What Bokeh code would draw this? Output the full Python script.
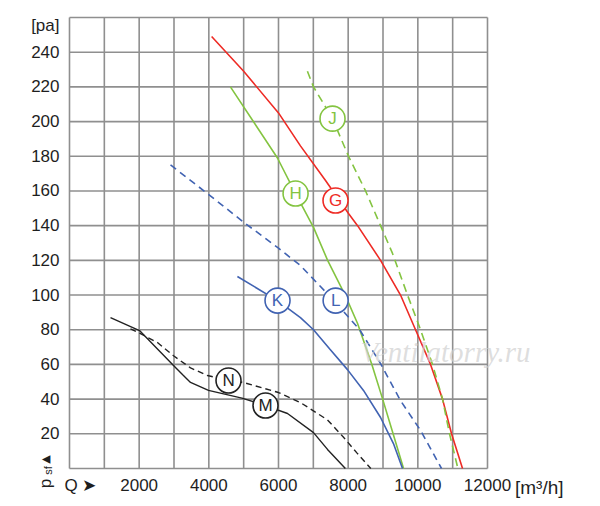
import math
from bokeh.plotting import figure
from bokeh.models import Range1d, FixedTicker, Label, ColumnDataSource
from bokeh.core.properties import value
from bokeh.embed import file_html
from bokeh.resources import INLINE

# ---- data ----
x_ticks = [316, 2000, 4000, 6000, 8000, 10000, 12000]
x_tick_labels = ["Q ➤", "2000", "4000", "6000", "8000", "10000", "12000"]
y_ticks = [20, 40, 60, 80, 100, 120, 140, 160, 180, 200, 220, 240, 255.3]
y_tick_labels = [str(v) for v in y_ticks[:-1]] + ["[pa]"]
x_grid = list(range(0, 13000, 1000))
y_grid = list(range(0, 280, 20))

g_x = [4080, 5000, 6000, 6630, 7350, 8010, 8270, 8930, 9503, 9934, 10365, 10709, 10968, 11283]
g_y = [249, 229, 205, 186, 166, 147, 140, 120, 100, 80, 60, 40, 20, 0]

j_x = [6830, 7005, 7550, 8010, 8500, 8930, 9273, 9704, 10078, 10422, 10709, 10910, 11150]
j_y = [229, 220, 201.7, 180, 160, 140, 124, 100, 80, 60, 40, 20, 0]

h_x = [4620, 5970, 6490, 7005, 7410, 7920, 8270, 8680, 8990, 9290, 9590]
h_y = [220, 179, 158.5, 139, 120, 99.7, 83.6, 60, 40, 20, 0]

l_x = [2900, 3960, 5000, 6000, 6630, 7580, 8330, 8930, 9500, 10080, 10680]
l_y = [175, 158.5, 142, 127, 117, 97, 80, 60.5, 39.2, 21.9, 0]

k_x = [4820, 5970, 6630, 7005, 7465, 7980, 8440, 8930, 9300, 9560]
k_y = [110.7, 96.8, 87, 80, 69, 57, 45, 29.4, 14.4, 0]

m_x = [1177, 2010, 2986, 3250, 3474, 3990, 4950, 5627, 6259, 7005, 7407, 7920]
m_y = [87, 79.5, 59.4, 54, 49.6, 45, 40.6, 36.3, 31.7, 20.7, 11, 0]

n_x = [1750, 2010, 2526, 2986, 3474, 3962, 4565, 4996, 6000, 6632, 7407, 7867, 8250, 8650]
n_y = [80.5, 78, 72.6, 65, 58, 53.6, 50.7, 49.6, 43.8, 38, 28, 18, 9, 0]

tag_letters = ["G", "J", "H", "K", "L", "N", "M"]
tag_x = [7637, 7551, 6490, 5972, 7640, 4565, 5627]
tag_y = [154.5, 201.7, 158.5, 96.8, 96.8, 50.7, 36.3]

RED = "#ee2b25"
GREEN = "#84c441"
BLUE = "#4163b2"
BLACK = "#222222"
tag_colors = [RED, GREEN, GREEN, BLUE, BLUE, BLACK, BLACK]

FONT = "Liberation Sans"
GRID = "#8f8f8f"
TXT = "#1e1e1e"

# The frame fills the whole canvas; axes are fixed at x=0 / y=0 so that all
# texts (including those left of / below the grid) stay inside the frame.
W, H = 600, 506
FL, FR, FT, FB = 69, 487, 17, 468          # pixel box of the grid
xs = (x_grid[-1] - x_grid[0]) / (FR - FL)
ys = (y_grid[-1] - y_grid[0]) / (FB - FT)
x_range = Range1d(x_grid[0] - FL * xs, x_grid[-1] + (W - FR) * xs)
y_range = Range1d(y_grid[0] - (H - FB) * ys, y_grid[-1] + FT * ys)

p = figure(width=W, height=H, output_backend="svg", toolbar_location=None,
           x_range=x_range, y_range=y_range,
           min_border_left=0, min_border_right=0, min_border_top=0, min_border_bottom=0)
p.background_fill_color = "white"
p.border_fill_color = "white"
p.outline_line_color = None
p.xgrid.visible = False
p.ygrid.visible = False

# grid (including the outer frame lines)
p.segment(x0=x_grid, x1=x_grid, y0=[y_grid[0]] * len(x_grid), y1=[y_grid[-1]] * len(x_grid),
          line_color=GRID, line_width=1.6)
p.segment(x0=[x_grid[0]] * len(y_grid), x1=[x_grid[-1]] * len(y_grid), y0=y_grid, y1=y_grid,
          line_color=GRID, line_width=1.6)

p.xaxis.fixed_location = 0
p.yaxis.fixed_location = 0
p.xaxis.ticker = FixedTicker(ticks=x_ticks)
p.xaxis.major_label_overrides = dict(zip(x_ticks, x_tick_labels))
p.yaxis.ticker = FixedTicker(ticks=y_ticks)
p.yaxis.major_label_overrides = dict(zip(y_ticks, y_tick_labels))
for ax in (p.xaxis, p.yaxis):
    ax.axis_line_color = None
    ax.major_tick_line_color = None
    ax.minor_tick_line_color = None
    ax.major_label_text_font = FONT
    ax.major_label_text_font_size = "17px"
    ax.major_label_text_color = TXT
p.xaxis.major_label_standoff = 1
p.yaxis.major_label_standoff = 4

# curves
p.line(g_x, g_y, line_color=RED, line_width=1.6)
p.line(j_x, j_y, line_color=GREEN, line_width=1.6, line_dash="8 5")
p.line(h_x, h_y, line_color=GREEN, line_width=1.6)
p.line(l_x, l_y, line_color=BLUE, line_width=1.6, line_dash="7 5")
p.line(k_x, k_y, line_color=BLUE, line_width=1.6)
p.line(m_x, m_y, line_color=BLACK, line_width=1.4)
p.line(n_x, n_y, line_color=BLACK, line_width=1.4, line_dash="6 4")

# curve tags
src = ColumnDataSource(dict(x=tag_x, y=tag_y, t=tag_letters, c=tag_colors))
p.scatter("x", "y", source=src, size=25, marker="circle", fill_color="white",
          line_color="c", line_width=1.6)
p.text("x", "y", text="t", source=src, text_color="c", text_align="center",
       text_baseline="middle", text_font=value(FONT), text_font_size="17px")

def dlabel(x, y, text, **kw):
    opts = dict(x=x, y=y, text=text, text_baseline="middle", text_font=FONT, text_color=TXT)
    opts.update(kw)
    p.add_layout(Label(**opts))

dlabel(12790, -10.9, "[m³/h]", text_align="left", text_font_size="19px")
dlabel(-689, -8.6, "p", text_align="center", angle=math.pi / 2, text_font_size="17px")
dlabel(-603, -1.2, "sf", text_align="center", angle=math.pi / 2, text_font_size="11px")
dlabel(-689, 5.2, "▲", text_align="center", angle=math.pi / 2, text_font="DejaVu Sans",
       text_font_size="11px")

# watermark
dlabel(10794, 66.9, "Ventilatorry.ru", text_align="center", text_font="Liberation Serif",
       text_font_style="italic", text_font_size="29px", text_color="#cfcfcf", text_alpha=0.7)

open("out.html", "w").write(file_html(p, INLINE))
